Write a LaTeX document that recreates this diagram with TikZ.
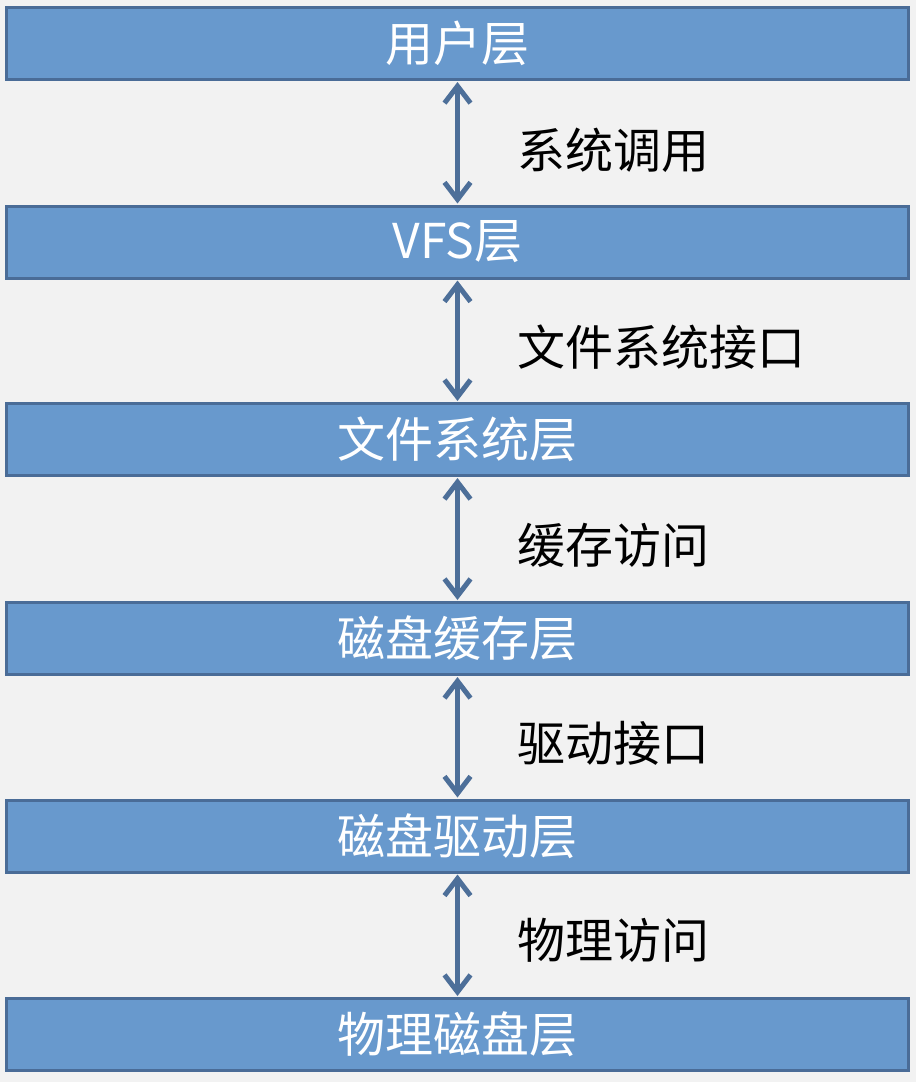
\documentclass[tikz,border=0pt]{standalone}
\usepackage{fontspec}
\setmainfont{Noto Sans CJK SC}
\usetikzlibrary{arrows.meta}
\definecolor{bg}{HTML}{F2F2F2}
\definecolor{boxfill}{HTML}{6899CD}
\definecolor{boxdraw}{HTML}{4A6C97}
\definecolor{arr}{HTML}{4D6F99}
\tikzset{
  layer/.style={draw=boxdraw, line width=3pt, fill=boxfill, minimum width=902pt, minimum height=72pt, inner sep=0pt, text=white, font=\fontsize{48}{51}\selectfont},
  lbl/.style={anchor=west, inner sep=0pt, text=black, font=\fontsize{48}{51}\selectfont},
  link/.style={draw=arr, line width=5pt, {Straight Barb[length=17pt,width=26pt]}-{Straight Barb[length=17pt,width=26pt]}, shorten <=1pt, shorten >=1pt}
}
\begin{document}
\begin{tikzpicture}[x=1pt,y=-1pt]
\fill[bg] (0,0) rectangle (916,1082);
\useasboundingbox (0,0) rectangle (916,1082);
\node[layer] (l1) at (457.5,43.5) {用户层};
\node[layer] (l2) at (457.5,242) {VFS层};
\node[layer] (l3) at (457.5,439.5) {文件系统层};
\node[layer] (l4) at (457.5,638.5) {磁盘缓存层};
\node[layer] (l5) at (457.5,836) {磁盘驱动层};
\node[layer] (l6) at (457.5,1034.5) {物理磁盘层};
\draw[link] (l1.south) -- (l2.north);
\draw[link] (l2.south) -- (l3.north);
\draw[link] (l3.south) -- (l4.north);
\draw[link] (l4.south) -- (l5.north);
\draw[link] (l5.south) -- (l6.north);
\node[lbl] (t1) at (517,150) {系统调用};
\node[lbl] (t2) at (517,347) {文件系统接口};
\node[lbl] (t3) at (517,545) {缓存访问};
\node[lbl] (t4) at (517,743) {驱动接口};
\node[lbl] (t5) at (517,940) {物理访问};
\end{tikzpicture}
\end{document}
